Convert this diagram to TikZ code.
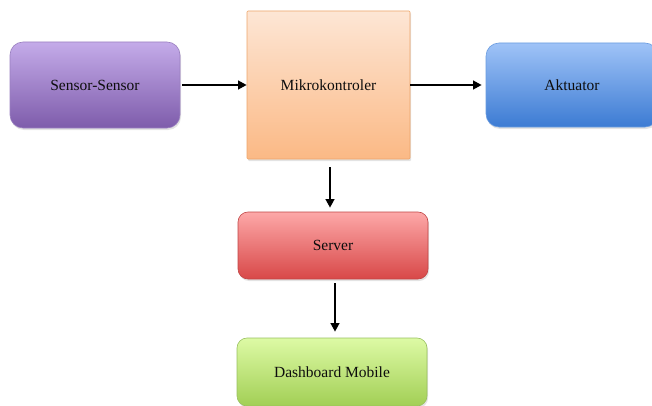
\documentclass[tikz,border=0pt]{standalone}
\usepackage{fontspec}
\setmainfont{Liberation Serif}
\usetikzlibrary{arrows.meta,shadows,positioning}

\definecolor{sensTop}{HTML}{C4ABE9}
\definecolor{sensBot}{HTML}{7E5CAB}
\definecolor{sensLine}{HTML}{9A80C0}
\definecolor{mcuTop}{HTML}{FDE6D5}
\definecolor{mcuBot}{HTML}{FBB985}
\definecolor{mcuLine}{HTML}{EDA56A}
\definecolor{actTop}{HTML}{9FC3F7}
\definecolor{actBot}{HTML}{3C7BD3}
\definecolor{actLine}{HTML}{6A9CE0}
\definecolor{srvTop}{HTML}{FDA8A8}
\definecolor{srvBot}{HTML}{D84848}
\definecolor{srvLine}{HTML}{C04545}
\definecolor{dshTop}{HTML}{DDFAA5}
\definecolor{dshBot}{HTML}{A2CF55}
\definecolor{dshLine}{HTML}{98C060}

\tikzset{
  block/.style={draw, line width=0.6pt, inner sep=0pt, font=\fontsize{15.5}{18}\selectfont,
    text=black!95, drop shadow={opacity=0.22, shadow xshift=1pt, shadow yshift=-2pt}},
  flow/.style={line width=2.8pt, -{Triangle[length=8.5pt,width=8.5pt]}}
}

\begin{document}
\begin{tikzpicture}[x=1pt,y=1pt]
  \useasboundingbox (0,0) rectangle (652,405);
  \clip (0,0) rectangle (652,405);

  % input stage
  \node[block, rounded corners=13pt, draw=sensLine, top color=sensTop, bottom color=sensBot,
        minimum width=170pt, minimum height=86pt] (sensor) at (95,320) {Sensor-Sensor};

  % controller
  \node[block, rounded corners=1pt, draw=mcuLine, top color=mcuTop, bottom color=mcuBot,
        minimum width=163pt, minimum height=148pt] (mcu) at (328.5,320) {Mikrokontroler};

  % output stage
  \node[block, rounded corners=13pt, draw=actLine, top color=actTop, bottom color=actBot,
        minimum width=172pt, minimum height=84pt] (act) at (572,320) {Aktuator};

  % cloud side
  \node[block, rounded corners=10pt, draw=srvLine, top color=srvTop, bottom color=srvBot,
        minimum width=190pt, minimum height=67pt] (srv) at (333,159.5) {Server};

  \node[block, rounded corners=10pt, draw=dshLine, top color=dshTop, bottom color=dshBot,
        minimum width=190pt, minimum height=68pt] (dash) at (332,33) {Dashboard Mobile};

  % connectors
  \draw[flow, shorten <=2pt] (sensor.east) -- (mcu.west);
  \draw[flow, shorten >=4pt] (mcu.east) -- (act.west);
  \draw[flow, shorten <=8pt, shorten >=4pt] ([xshift=1.5pt]mcu.south) -- ([xshift=1.5pt]mcu.south |- srv.north);
  \draw[flow, shorten <=4pt, shorten >=6pt] ([xshift=2pt]srv.south) -- ([xshift=2pt]srv.south |- dash.north);
\end{tikzpicture}
\end{document}
